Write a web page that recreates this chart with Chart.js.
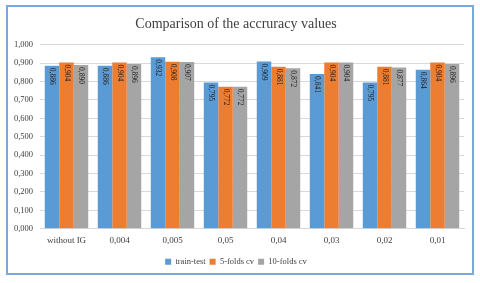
<!DOCTYPE html>
<html>
<head>
<meta charset="utf-8">
<script src="https://cdn.jsdelivr.net/npm/chart.js@4/dist/chart.umd.min.js"></script>
<style>
  html, body { margin: 0; padding: 0; background: #fff; }
  body { width: 480px; height: 283px; position: relative; overflow: hidden; }
  #frame {
    position: absolute; left: 6px; top: 5px; width: 464px; height: 266px;
    border: 2px solid #7aa8da; background: #fff;
  }
  #frame canvas { display: block; }
</style>
</head>
<body>
<div id="frame"><canvas id="accChart" width="464" height="266"></canvas></div>
<script>
// categories (IG thresholds)
const categories = ["without IG", "0,004", "0,005", "0,05", "0,04", "0,03", "0,02", "0,01"];

// accuracy per evaluation method
const trainTest = [0.886, 0.886, 0.932, 0.795, 0.909, 0.841, 0.795, 0.864];
const folds5 = [0.904, 0.904, 0.908, 0.772, 0.881, 0.904, 0.881, 0.904];
const folds10 = [0.890, 0.896, 0.907, 0.772, 0.872, 0.904, 0.877, 0.896];

const seriesNames = ["train-test", "5-folds cv", "10-folds cv"];
const colors = ["#5b9bd5", "#ed7d31", "#a5a5a5"];

const fmt = v => v.toFixed(3).replace(".", ",");

// value labels written vertically inside the top of each bar
const barLabels = {
  id: "barLabels",
  afterDatasetsDraw(chart) {
    const ctx = chart.ctx;
    ctx.save();
    ctx.font = "7.5px 'Liberation Serif'";
    ctx.fillStyle = "#1e1e1e";
    ctx.textAlign = "left";
    ctx.textBaseline = "middle";
    chart.data.datasets.forEach((ds, i) => {
      chart.getDatasetMeta(i).data.forEach((bar, j) => {
        ctx.save();
        ctx.translate(bar.x, bar.y + 2);
        ctx.rotate(Math.PI / 2);
        ctx.fillText(fmt(ds.data[j]), 0, 0);
        ctx.restore();
      });
    });
    ctx.restore();
  }
};

new Chart(document.getElementById("accChart"), {
  type: "bar",
  data: {
    labels: categories,
    datasets: [
      { label: seriesNames[0], data: trainTest, backgroundColor: colors[0] },
      { label: seriesNames[1], data: folds5, backgroundColor: colors[1] },
      { label: seriesNames[2], data: folds10, backgroundColor: colors[2] }
    ]
  },
  options: {
    responsive: false,
    animation: false,
    layout: { padding: { left: 0, right: 8, top: 0, bottom: -3 } },
    datasets: { bar: { categoryPercentage: 0.82, barPercentage: 1 } },
    scales: {
      x: {
        grid: { display: false, drawTicks: false },
        border: { color: "#d9d9d9" },
        ticks: { color: "#404040", font: { family: "Liberation Serif", size: 9 }, padding: 7, maxRotation: 0 }
      },
      y: {
        min: 0,
        max: 1,
        afterFit: s => { s.width = 32; },
        grid: { color: "#d9d9d9", drawTicks: false },
        border: { display: false },
        ticks: {
          stepSize: 0.1,
          padding: 7,
          color: "#404040",
          font: { family: "Liberation Serif", size: 8.5 },
          callback: v => fmt(v)
        }
      }
    },
    plugins: {
      title: {
        display: true,
        text: "Comparison of the accruracy values",
        color: "#404040",
        font: { family: "Liberation Serif", size: 14, weight: "normal" },
        padding: { top: 9, bottom: 12 }
      },
      legend: {
        position: "bottom",
        labels: {
          boxWidth: 6,
          boxHeight: 6,
          padding: 4,
          color: "#404040",
          font: { family: "Liberation Serif", size: 8.5 }
        }
      },
      tooltip: { enabled: false }
    }
  },
  plugins: [barLabels]
});
</script>
</body>
</html>
